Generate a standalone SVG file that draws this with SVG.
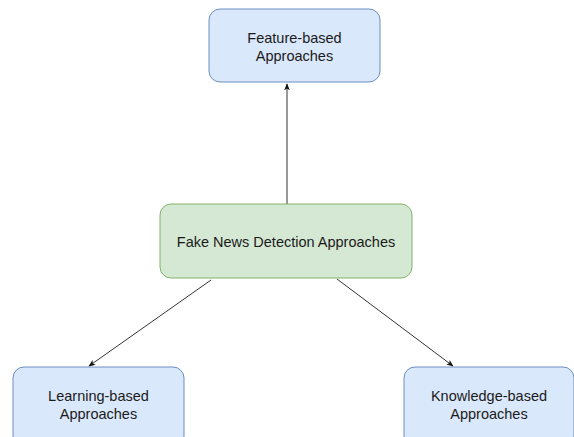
<svg xmlns="http://www.w3.org/2000/svg" width="574" height="437" viewBox="0 0 574 437">
<style>
.blue{fill:#dae8fc;stroke:#6c8ebf;stroke-width:1}
.green{fill:#d5e8d4;stroke:#82b366;stroke-width:1}
.lbl{font-family:"Liberation Sans",Arial,sans-serif;font-size:14.5px;fill:#1a1a1a;text-anchor:middle}
.edge{stroke:#333333;stroke-width:1;fill:none;marker-end:url(#arr)}
</style>
<defs>
<marker id="arr" viewBox="0 0 10 10" refX="9" refY="5" markerWidth="7" markerHeight="7" orient="auto" markerUnits="userSpaceOnUse">
<path d="M0,1 L10,5 L0,9 L2.5,5 Z" fill="#111111"/>
</marker>
</defs>
<rect width="574" height="437" fill="#ffffff"/>
<g id="connectors">
<line class="edge" x1="287" y1="204" x2="287" y2="84"/>
<line class="edge" x1="211" y1="280" x2="89" y2="366"/>
<line class="edge" x1="337" y1="279" x2="453" y2="366"/>
</g>
<g id="feature">
<rect class="blue" x="209" y="9" width="171" height="73" rx="11"/>
<text class="lbl" x="294.5" y="43">Feature-based</text>
<text class="lbl" x="294.5" y="61">Approaches</text>
</g>
<g id="center">
<rect class="green" x="160" y="204" width="252" height="74" rx="11"/>
<text class="lbl" x="286" y="247">Fake News Detection Approaches</text>
</g>
<g id="learning">
<rect class="blue" x="13" y="367" width="171" height="80" rx="11"/>
<text class="lbl" x="98.5" y="401">Learning-based</text>
<text class="lbl" x="98.5" y="419">Approaches</text>
</g>
<g id="knowledge">
<rect class="blue" x="404" y="367" width="170" height="80" rx="11"/>
<text class="lbl" x="489" y="401">Knowledge-based</text>
<text class="lbl" x="489" y="419">Approaches</text>
</g>
</svg>
